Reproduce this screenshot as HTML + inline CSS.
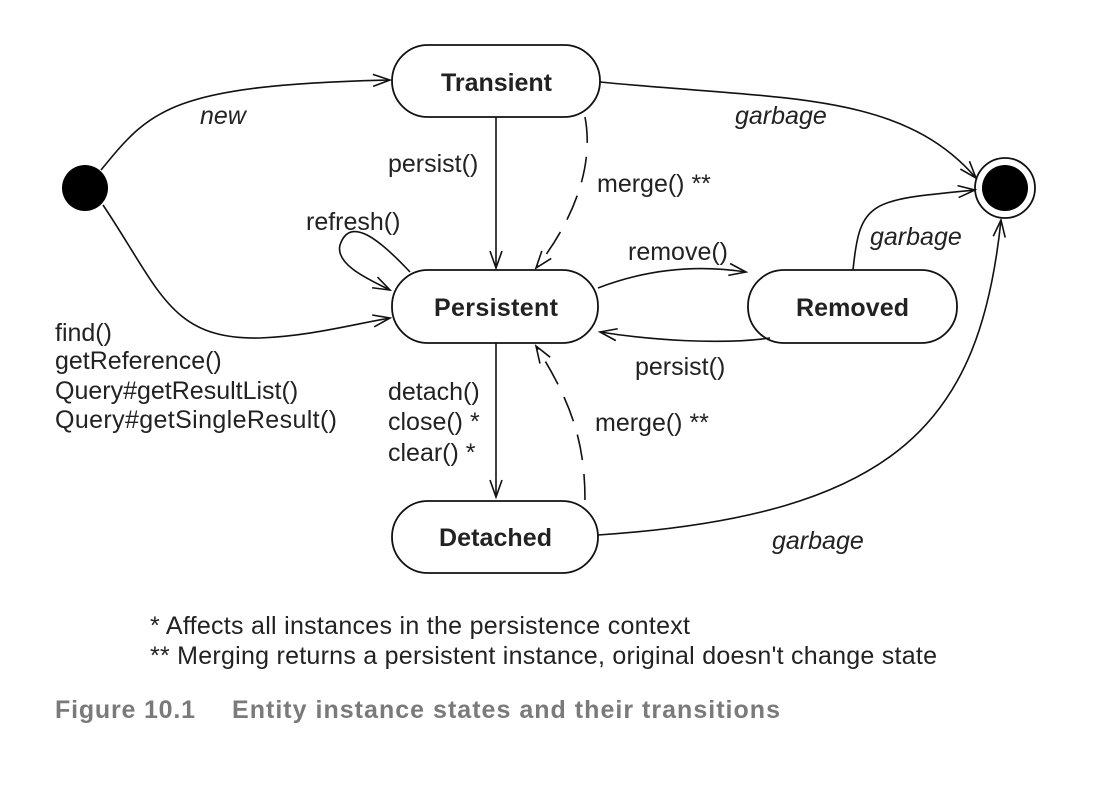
<!DOCTYPE html>
<html><head><meta charset="utf-8"><style>
html,body{margin:0;padding:0;background:#fff;}
svg{display:block;}
text{font-family:"Liberation Sans",sans-serif;font-size:25px;fill:#222;}
.b{font-weight:bold;}
.i{font-style:italic;}
</style></head><body>
<svg width="1114" height="788" viewBox="0 0 1114 788">
<defs>
<marker id="a" markerWidth="20" markerHeight="14" refX="18" refY="7" orient="auto" markerUnits="userSpaceOnUse">
<path d="M1,1 L18,7 L1,13" fill="none" stroke="#111" stroke-width="1.6"/>
</marker>
</defs>
<g fill="none" stroke="#111" stroke-width="1.8">
<rect x="392" y="45" width="208" height="72" rx="36"/>
<rect x="392" y="270" width="206" height="73" rx="36"/>
<rect x="748" y="270" width="209" height="73" rx="36"/>
<rect x="392" y="501" width="206" height="72" rx="36"/>
<circle cx="1005" cy="188" r="30"/>
</g>
<circle cx="85" cy="188" r="23" fill="#000"/>
<circle cx="1005" cy="188" r="23" fill="#000"/>
<g fill="none" stroke="#111" stroke-width="1.6">
<path d="M101,170 C150,110 170,85 390,80" marker-end="url(#a)"/>
<path d="M600,82 C780,100 900,90 976,178" marker-end="url(#a)"/>
<path d="M496,117 L496,268" marker-end="url(#a)"/>
<path d="M585,117 C595,170 570,225 536,268" stroke-dasharray="26,14" marker-end="url(#a)"/>
<path d="M410,272 C380,240 350,215 340,245 C335,265 370,280 390,290" marker-end="url(#a)"/>
<path d="M103,205 C160,290 170,340 260,338 C310,336 350,325 390,318" marker-end="url(#a)"/>
<path d="M598,288 C650,268 700,265 746,272" marker-end="url(#a)"/>
<path d="M770,338 C720,345 650,340 600,332" marker-end="url(#a)"/>
<path d="M853,270 C860,200 870,200 975,190" marker-end="url(#a)"/>
<path d="M496,343 L496,497" marker-end="url(#a)"/>
<path d="M585,500 C585,440 570,400 536,346" stroke-dasharray="26,14" marker-end="url(#a)"/>
<path d="M598,535 C900,515 980,420 1001,220" marker-end="url(#a)"/>
</g>
<text x="441" y="91" textLength="111" class="b">Transient</text>
<text x="434" y="316" textLength="124" class="b">Persistent</text>
<text x="796" y="316" textLength="113" class="b">Removed</text>
<text x="439" y="546" textLength="113" class="b">Detached</text>
<text x="200" y="124" class="i">new</text>
<text x="735" y="124" class="i">garbage</text>
<text x="870" y="245" class="i">garbage</text>
<text x="772" y="549" class="i">garbage</text>
<text x="388" y="172">persist()</text>
<text x="597" y="192">merge() **</text>
<text x="306" y="230">refresh()</text>
<text x="628" y="260">remove()</text>
<text x="635" y="375">persist()</text>
<text x="55" y="341">find()</text>
<text x="55" y="369">getReference()</text>
<text x="55" y="399">Query#getResultList()</text>
<text x="55" y="428" textLength="282">Query#getSingleResult()</text>
<text x="388" y="400">detach()</text>
<text x="388" y="430">close() *</text>
<text x="388" y="461">clear() *</text>
<text x="595" y="431">merge() **</text>
<text x="150" y="634" textLength="540">* Affects all instances in the persistence context</text>
<text x="150" y="664" textLength="787">** Merging returns a persistent instance, original doesn't change state</text>
<text x="55" y="718" textLength="140" class="b" style="fill:#7a7a7a">Figure 10.1</text>
<text x="232" y="718" textLength="548" class="b" style="fill:#7a7a7a">Entity instance states and their transitions</text>
</svg>
</body></html>
